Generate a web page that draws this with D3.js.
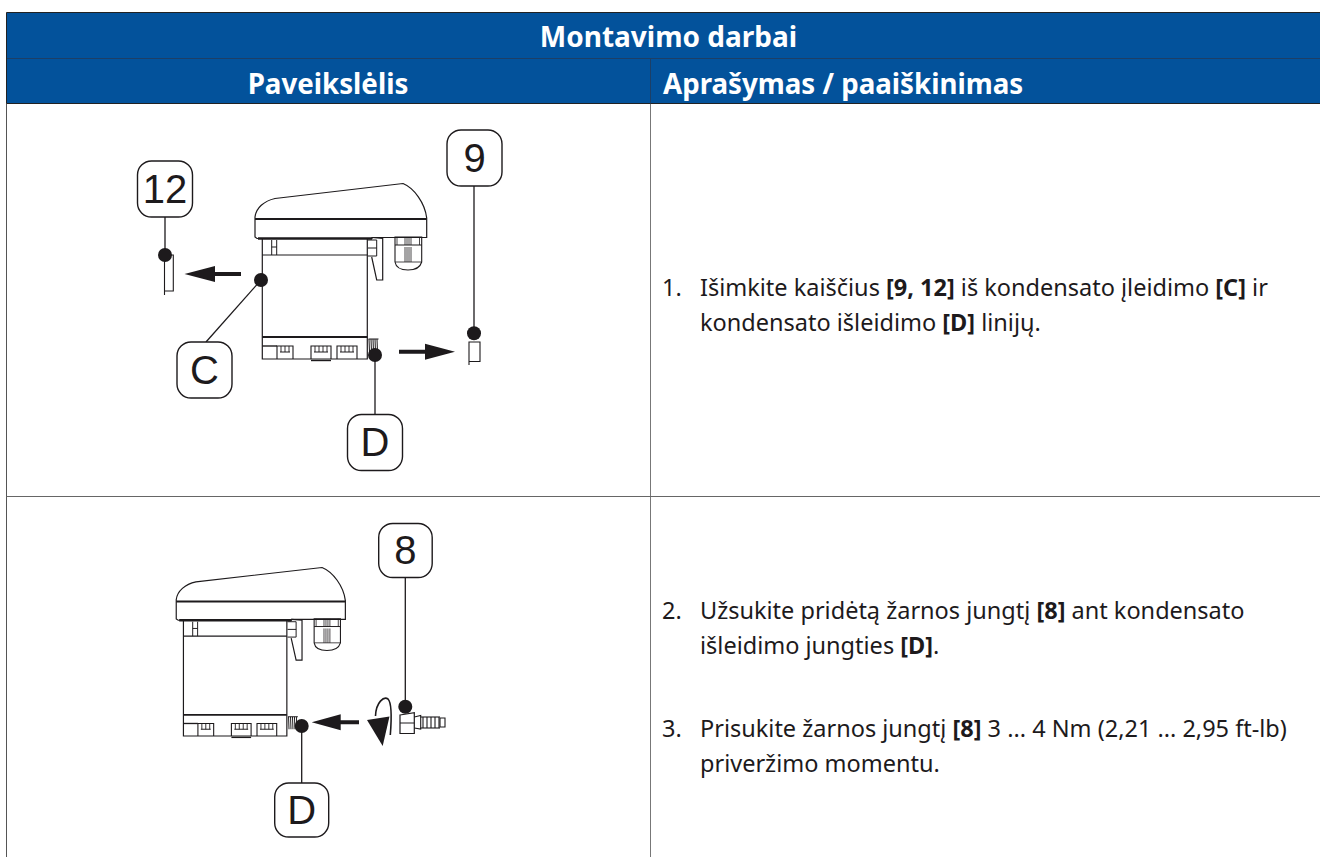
<!DOCTYPE html>
<html>
<head>
<meta charset="utf-8">
<script src="https://cdn.jsdelivr.net/npm/d3@7"></script>
<style>
body{margin:0;background:#fff;}
svg{display:block;}
</style>
</head>
<body>
<div class="canvas"></div>
<script>
//table content
const tableTitle=['Montavimo darbai'];
const columnTitles=['Paveikslėlis','Aprašymas / paaiškinimas'];
const rowNames=['title','header','step1','step2'];
const stepNumbers=['1.','2.','3.'];
const stepLines=[
  ['Išimkite kaiščius [9, 12] iš kondensato įleidimo [C] ir','kondensato išleidimo [D] linijų.'],
  ['Užsukite pridėtą žarnos jungtį [8] ant kondensato','išleidimo jungties [D].'],
  ['Prisukite žarnos jungtį [8] 3 ... 4 Nm (2,21 ... 2,95 ft-lb)','priveržimo momentu.']
];
const calloutLabels=['12','9','C','D','8','D'];

const blue='#03529b', ink='#1d1a1c', font='"Noto Sans",sans-serif';

const canvas=d3.select('.canvas');
const svg=canvas.append('svg').attr('width',1320).attr('height',857);

//layout scales
const xCol=d3.scaleOrdinal().domain(['left','mid','right']).range([6.5,650.5,1320]);
const yRow=d3.scaleOrdinal().domain(rowNames.concat('end')).range([12.5,58.5,103.5,496.5,857]);

//blue header
svg.append('rect').attr('x',xCol('left')).attr('y',yRow('title'))
  .attr('width',xCol('right')-xCol('left')).attr('height',yRow('step1')-yRow('title'))
  .attr('fill',blue);

//grid lines
const grid=svg.append('g').attr('fill','none');
function gridLine(x1,y1,x2,y2,color){
  grid.append('line').attr('x1',x1).attr('y1',y1).attr('x2',x2).attr('y2',y2)
    .attr('stroke',color).attr('stroke-width',1);
}
gridLine(xCol('left'),yRow('step1'),xCol('left'),yRow('end'),'#555');
gridLine(xCol('mid'),yRow('step1'),xCol('mid'),yRow('end'),'#777');
gridLine(xCol('left'),yRow('step2'),xCol('right'),yRow('step2'),'#666');
gridLine(xCol('left'),yRow('title'),xCol('right'),yRow('title'),'#222');
gridLine(xCol('left'),yRow('header'),xCol('right'),yRow('header'),'#1d3f66');
gridLine(xCol('left'),yRow('step1'),xCol('right'),yRow('step1'),'#222');
gridLine(xCol('left'),yRow('title'),xCol('left'),yRow('step1'),'#222');
gridLine(xCol('mid'),yRow('header'),xCol('mid'),yRow('step1'),'#1d3f66');

//header text
svg.append('text').attr('x',668.5).attr('y',46.5).attr('text-anchor','middle')
  .attr('fill','#fff').style('font',`700 28px ${font}`).text(tableTitle[0]);
svg.selectAll('.col').data(columnTitles).enter().append('text').attr('class','col')
  .attr('x',(d,i)=>i==0?328:663).attr('y',94)
  .attr('text-anchor',(d,i)=>i==0?'middle':'start')
  .attr('fill','#fff').style('font',`700 27.7px ${font}`).text(d=>d);

//description text, [..] goes bold
const stepBaselines=[295.5,619,737];
stepLines.forEach((lines,s)=>{
  svg.append('text').attr('x',662).attr('y',stepBaselines[s])
    .attr('fill',ink).style('font',`400 23.5px ${font}`).text(stepNumbers[s]);
  lines.forEach((ln,i)=>{
    const t=svg.append('text').attr('x',700).attr('y',stepBaselines[s]+i*35)
      .attr('fill',ink).style('font',`400 23.5px ${font}`);
    ln.split(/(\[[^\]]+\])/).forEach(part=>{
      t.append('tspan').style('font-weight',part[0]=='['?700:400).text(part);
    });
  });
});

//drawing helpers
const pathOf=d3.line();
function poly(g,pts,w,closed){
  return g.append('path').attr('d',pathOf(pts)+(closed?'Z':''))
    .attr('fill','none').attr('stroke',ink).attr('stroke-width',w||1.2);
}
function dot(x,y){
  svg.append('circle').attr('cx',x).attr('cy',y).attr('r',7).attr('fill',ink);
}
function callout(label,x,y,w,h){
  svg.append('rect').attr('x',x).attr('y',y).attr('width',w).attr('height',h)
    .attr('rx',14).attr('fill','#fff').attr('stroke',ink).attr('stroke-width',1.4);
  svg.append('text').attr('x',x+w/2).attr('y',y+h/2+13.5).attr('text-anchor','middle')
    .attr('fill',ink).style('font','400 40px "Liberation Sans",Arial,sans-serif').text(label);
}
function arrow(tip,base,end,y){
  svg.append('path')
    .attr('d',pathOf([[tip,y],[base,y-8],[base,y-2],[end,y-2],[end,y+2],[base,y+2],[base,y+8]])+'Z')
    .attr('fill',ink);
}

//the unit, drawn once in the first cell's pixels and moved for the second
function device(g){
  //cover
  g.append('path')
    .attr('d','M255,217 C256,208 264,201 275,198.5 L403,183.5 C414,188 425,203 426.7,218 L426.7,237.5 L372,237.5 L372,238.5 L257,238.5 L255,237 Z')
    .attr('fill','none').attr('stroke',ink).attr('stroke-width',1.2);
  poly(g,[[255,219],[426.7,219]],2.2);
  poly(g,[[258,238.5],[372,238.5]],2.6);
  //neck and body
  poly(g,[[262.3,239],[262.3,359],[367.3,359],[367.3,239]],1.2);
  poly(g,[[262.3,255],[367.3,255]],1.2);
  poly(g,[[262.3,337],[367.3,337]],2);
  //clips
  poly(g,[[271.7,240],[271.7,255]],1);
  poly(g,[[276.7,240],[276.7,255]],1);
  poly(g,[[271.7,247],[276.7,247]],1);
  poly(g,[[368,240],[376.7,240],[376.7,256],[368,256]],1);
  poly(g,[[368,248],[376.7,248]],1);
  //latch
  poly(g,[[372,237.5],[382.7,238.5],[382.7,280],[376.7,280],[371.7,257]],1.2);
  //cable gland
  g.append('path').attr('d','M395,237 L421.7,237 L421.7,262 C420,268 414,270 408,270 C402,270 396,268 395,262 Z')
    .attr('fill','none').attr('stroke',ink).attr('stroke-width',1.1);
  poly(g,[[395,245],[421.7,245]],1);
  poly(g,[[397,237],[397,245]],.8);
  poly(g,[[419.5,237],[419.5,245]],.8);
  d3.range(405,413,2).forEach(x=>{
    poly(g,[[x,237],[x,245]],.8);
    poly(g,[[x,247],[x,262]],.8);
  });
  poly(g,[[395,262],[421.7,262]],.8);
  //connectors
  poly(g,[[262.3,346],[277,346]],1.4);
  [[277,293],[311,331],[337,357]].forEach(c=>{
    poly(g,[[c[0],359],[c[0],346],[c[1],346],[c[1],359]],1.1);
    poly(g,[[c[0]+3,352],[c[1]-3,352]],1);
    d3.range(c[0]+4,c[1]-2,4).forEach(x=>poly(g,[[x,346],[x,352]],.9));
  });
  poly(g,[[311,360.5],[331,360.5]],1.4);
  //threaded stub
  poly(g,[[368.5,339],[378.5,339]],1);
  d3.range(369,379,2).forEach(x=>poly(g,[[x,339],[x+.5,352]],1));
}

const deviceA=svg.append('g');
device(deviceA);
const deviceB=svg.append('g').attr('transform','translate(-70,384) translate(262,183) scale(0.985,0.96) translate(-271,-183)');
device(deviceB);

//leader lines
function leader(x1,y1,x2,y2){
  svg.append('line').attr('x1',x1).attr('y1',y1).attr('x2',x2).attr('y2',y2)
    .attr('stroke',ink).attr('stroke-width',1.3);
}
leader(165,217,165,255);
leader(261,280,206,342);
leader(474,186,474,333);
leader(375,355,375,414);
leader(405.3,577,405.3,707);
leader(301.7,726,301.7,783);

//plugs
poly(svg,[[164.5,295],[164.5,255],[173.3,255],[173.3,291],[164.5,291]],1.1);
poly(svg,[[469,365],[469,342],[480,342],[480,361.5],[469,361.5]],1.1);

//fitting
const fit=svg.append('g');
fit.append('path').attr('d','M400,715 L414.3,712.7 L414.3,733.5 L400,733.5 Z').attr('fill','#fff').attr('stroke',ink).attr('stroke-width',1.2);
poly(fit,[[400,723],[414.3,723]],1);
poly(fit,[[414.3,717],[420.7,715.5],[420.7,729],[414.3,728]],1.1);
poly(fit,[[420.7,717],[440,717]],1.1);
poly(fit,[[420.7,728],[440,728]],1.1);
d3.range(423,440,4).forEach(x=>poly(fit,[[x,717],[x,728]],1.1));
poly(fit,[[440,718],[445,718],[445,727],[440,727],[440,718]],1.1);

//arrows and dots
arrow(184.5,215,241,274);
arrow(455,425,399,351.7);
arrow(311.7,340.7,359,722.3);
svg.append('path').attr('d','M375.5,716 C376,702 384,696 388,699 C392,703 391.5,720 390.3,735')
  .attr('fill','none').attr('stroke',ink).attr('stroke-width',1.6);
svg.append('path').attr('d',pathOf([[367,720],[389.5,716.5],[382.7,746]])+'Z').attr('fill',ink);

dot(165,255); dot(261,280); dot(474,333.3); dot(375,355); dot(405.3,706.7); dot(301.7,726);

//callouts
const calloutBoxes=[[137.5,161,55,56],[447,130,55,56],[177,342,55,56],[347.5,414.5,55,56],[378.7,523.5,53.5,54],[274.7,783,54,54]];
calloutLabels.forEach((d,i)=>callout(d,...calloutBoxes[i]));
</script>
</body>
</html>
